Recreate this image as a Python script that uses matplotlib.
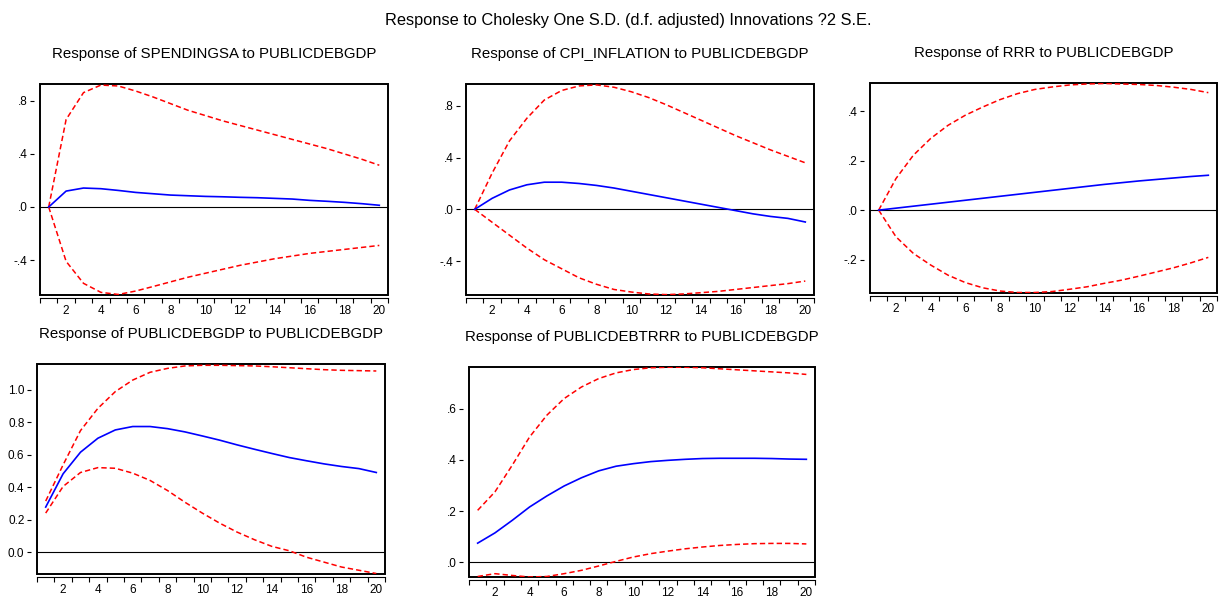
import numpy as np
import matplotlib.pyplot as plt
from matplotlib.ticker import FuncFormatter, FixedLocator

plt.rcParams['font.family'] = ['Liberation Sans', 'DejaVu Sans']

periods = np.arange(1, 21)

# Response of SPENDINGSA
spend_resp = [0.0, 0.12, 0.143, 0.138, 0.125, 0.11, 0.10, 0.09, 0.085, 0.08,
              0.077, 0.073, 0.07, 0.065, 0.06, 0.05, 0.043, 0.035, 0.025, 0.013]
spend_up = [0.0, 0.66, 0.863, 0.92, 0.913, 0.875, 0.83, 0.78, 0.73, 0.69,
            0.65, 0.615, 0.58, 0.545, 0.51, 0.475, 0.44, 0.40, 0.36, 0.315]
spend_lo = [0.0, -0.41, -0.576, -0.644, -0.66, -0.634, -0.60, -0.565, -0.53, -0.50,
            -0.47, -0.44, -0.415, -0.39, -0.37, -0.35, -0.335, -0.32, -0.305, -0.29]

# Response of CPI_INFLATION
cpi_resp = [0.0, 0.085, 0.15, 0.19, 0.21, 0.21, 0.20, 0.185, 0.165, 0.14,
            0.115, 0.09, 0.065, 0.04, 0.015, -0.01, -0.035, -0.055, -0.07, -0.098]
cpi_up = [0.0, 0.28, 0.53, 0.705, 0.846, 0.92, 0.955, 0.963, 0.945, 0.91,
          0.865, 0.81, 0.75, 0.69, 0.63, 0.57, 0.515, 0.46, 0.41, 0.36]
cpi_lo = [0.0, -0.10, -0.20, -0.30, -0.39, -0.46, -0.53, -0.58, -0.62, -0.64,
          -0.655, -0.66, -0.655, -0.645, -0.635, -0.62, -0.605, -0.59, -0.575, -0.555]

# Response of RRR
rrr_resp = [0.0, 0.008, 0.016, 0.024, 0.032, 0.04, 0.048, 0.056, 0.064, 0.072,
            0.08, 0.088, 0.096, 0.104, 0.111, 0.118, 0.124, 0.13, 0.136, 0.141]
rrr_up = [0.0, 0.128, 0.222, 0.29, 0.343, 0.384, 0.417, 0.447, 0.471, 0.488,
          0.498, 0.506, 0.51, 0.512, 0.51, 0.508, 0.504, 0.497, 0.488, 0.475]
rrr_lo = [0.0, -0.108, -0.175, -0.222, -0.263, -0.293, -0.314, -0.327, -0.333, -0.333,
          -0.329, -0.32, -0.31, -0.296, -0.283, -0.267, -0.25, -0.233, -0.213, -0.191]

# Response of PUBLICDEBGDP
debt_resp = [0.279, 0.484, 0.617, 0.703, 0.754, 0.775, 0.775, 0.762, 0.742, 0.717,
             0.691, 0.662, 0.635, 0.609, 0.584, 0.564, 0.545, 0.529, 0.516, 0.492]
debt_up = [0.316, 0.539, 0.75, 0.887, 0.99, 1.061, 1.109, 1.133, 1.148, 1.152,
           1.152, 1.15, 1.148, 1.143, 1.137, 1.131, 1.125, 1.121, 1.119, 1.117]
debt_lo = [0.242, 0.406, 0.492, 0.522, 0.518, 0.488, 0.443, 0.381, 0.309, 0.242,
           0.18, 0.125, 0.078, 0.037, 0.01, -0.03, -0.06, -0.09, -0.11, -0.13]

# Response of PUBLICDEBTRRR
dtr_resp = [0.075, 0.115, 0.164, 0.216, 0.259, 0.298, 0.33, 0.357, 0.375, 0.385,
            0.393, 0.398, 0.402, 0.405, 0.406, 0.406, 0.406, 0.405, 0.403, 0.402]
dtr_up = [0.203, 0.275, 0.379, 0.489, 0.574, 0.639, 0.684, 0.717, 0.739, 0.752,
          0.759, 0.761, 0.761, 0.759, 0.755, 0.751, 0.747, 0.743, 0.739, 0.733]
dtr_lo = [-0.055, -0.044, -0.051, -0.057, -0.055, -0.044, -0.031, -0.014, 0.004, 0.021,
          0.034, 0.044, 0.053, 0.06, 0.066, 0.07, 0.073, 0.074, 0.074, 0.072]

panels = [
    ('Response of SPENDINGSA to PUBLICDEBGDP', spend_resp, spend_up, spend_lo,
     (-0.664, 0.928), [-0.4, 0.0, 0.4, 0.8], False, [40, 84, 388, 295]),
    ('Response of CPI_INFLATION to PUBLICDEBGDP', cpi_resp, cpi_up, cpi_lo,
     (-0.663, 0.97), [-0.4, 0.0, 0.4, 0.8], False, [466, 84, 814, 295]),
    ('Response of RRR to PUBLICDEBGDP', rrr_resp, rrr_up, rrr_lo,
     (-0.335, 0.514), [-0.2, 0.0, 0.2, 0.4], False, [870, 83, 1217, 293]),
    ('Response of PUBLICDEBGDP to PUBLICDEBGDP', debt_resp, debt_up, debt_lo,
     (-0.133, 1.16), [0.0, 0.2, 0.4, 0.6, 0.8, 1.0], True, [37, 364, 385, 574]),
    ('Response of PUBLICDEBTRRR to PUBLICDEBGDP', dtr_resp, dtr_up, dtr_lo,
     (-0.057, 0.762), [0.0, 0.2, 0.4, 0.6], False, [469, 367, 815, 577]),
]

W, H = 1219, 597
fig = plt.figure(figsize=(W / 100, H / 100), dpi=100)


def short_fmt(v, pos):
    s = '%.1f' % v
    if s.startswith('0.'):
        return s[1:]
    if s.startswith('-0.'):
        return '-' + s[2:]
    return s


for title, resp, up, lo, ylim, yt, lead0, (x0, y0, x1, y1) in panels:
    ax = fig.add_axes([x0 / W, 1 - y1 / H, (x1 - x0) / W, (y1 - y0) / H])
    ax.axhline(0, color='black', lw=0.8)
    ax.plot(periods, up, color='red', ls=(0, (3.5, 2)), lw=1.1)
    ax.plot(periods, lo, color='red', ls=(0, (3.5, 2)), lw=1.1)
    ax.plot(periods, resp, color='blue', lw=1.2)
    ax.set_xlim(0.5, 20.5)
    ax.set_ylim(*ylim)
    ax.set_yticks(yt)
    if lead0:
        ax.yaxis.set_major_formatter(FuncFormatter(lambda v, p: '%.1f' % v))
    else:
        ax.yaxis.set_major_formatter(FuncFormatter(short_fmt))
    ax.set_xticks(np.arange(2, 21, 2))
    ax.xaxis.set_minor_locator(FixedLocator(np.arange(0.5, 21, 1)))
    ax.tick_params(axis='x', which='major', length=0, pad=5.5, labelsize=8.5)
    ax.tick_params(axis='x', which='minor', length=3.5, width=0.8, direction='out')
    ax.tick_params(axis='y', length=3, width=0.8, pad=2, labelsize=8.5)
    for s in ['top', 'right']:
        ax.spines[s].set_visible(False)
    ax.spines['left'].set_position(('outward', 4))
    ax.spines['left'].set_visible(False)
    ax.spines['bottom'].set_position(('outward', 2))
    ax.spines['bottom'].set_linewidth(0.8)
    ax.patch.set_edgecolor('black')
    ax.patch.set_linewidth(1.4)
    ax.set_title(title, fontsize=10.8, pad=19)

fig.text(628 / W, 1 - 20 / H, 'Response to Cholesky One S.D. (d.f. adjusted) Innovations ?2 S.E.',
         ha='center', va='center', fontsize=11.8)

fig.savefig('out.png', dpi=100)
